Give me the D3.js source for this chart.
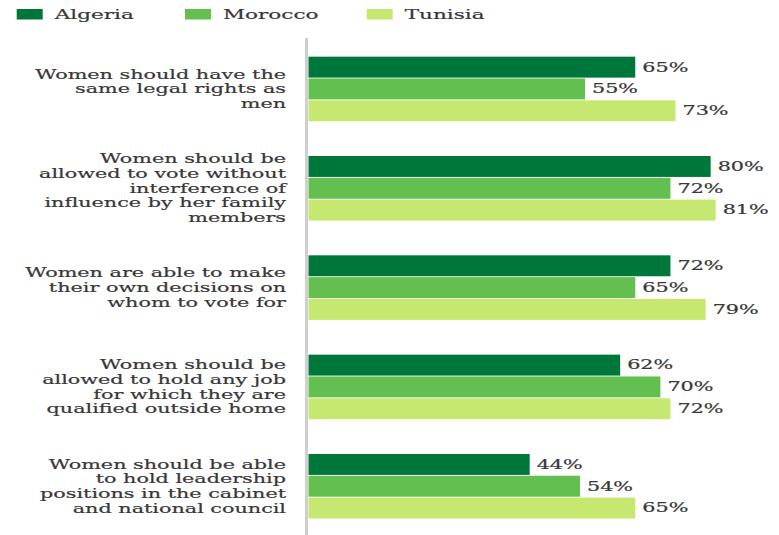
<!DOCTYPE html>
<html><head><meta charset="utf-8">
<script src="https://cdn.jsdelivr.net/npm/d3@7"></script>
<style>body{margin:0;background:#fff}svg{display:block}</style>
</head><body>
<svg id="c" width="779" height="535"></svg>
<script>
const categories = [
  ["Women should have the","same legal rights as","men"],
  ["Women should be","allowed to vote without","interference of","influence by her family","members"],
  ["Women are able to make","their own decisions on","whom to vote for"],
  ["Women should be","allowed to hold any job","for which they are","qualified outside home"],
  ["Women should be able","to hold leadership","positions in the cabinet","and national council"]
];
const seriesNames = ["Algeria","Morocco","Tunisia"];
const algeria = [65,80,72,62,44];
const morocco = [55,72,65,70,54];
const tunisia = [73,81,79,72,65];
const colors = ["#00773a","#63bf50","#c6e770"];

const values = [algeria, morocco, tunisia];
const svg = d3.select("#c");
const FONT = "'DejaVu Serif', serif";
const SX = 1.66;
const textColor = "#383838";

const idx = d3.range(categories.length);
const x = d3.scaleLinear().domain([0,100]).range([308.5, 811.2]);
const y = d3.scaleBand().domain(idx).range([39.3, 535.9]).paddingInner(0.35).paddingOuter(0.175);
const yi = d3.scaleBand().domain(seriesNames).range([0, y.bandwidth()]).paddingInner(0.04);

// axis line
svg.append("line").attr("x1",306.5).attr("x2",306.5).attr("y1",38).attr("y2",535)
  .attr("stroke","#cfcfcf").attr("stroke-width",3);

const g = svg.selectAll("g.grp").data(idx).join("g").attr("class","grp")
  .attr("transform", i => `translate(0,${y(i)})`);

seriesNames.forEach((s, si) => {
  g.append("rect")
    .attr("x", x(0))
    .attr("y", yi(s))
    .attr("width", i => x(values[si][i]) - x(0))
    .attr("height", yi.bandwidth())
    .attr("fill", colors[si]);
  g.append("text")
    .attr("transform", i => `translate(${x(values[si][i]) + 7},${yi(s) + yi.bandwidth()/2}) scale(${SX},1)`)
    .attr("dy","0.35em")
    .attr("font-family", FONT).attr("font-size", 12.5).attr("fill", textColor)
    .attr("stroke", textColor).attr("stroke-width", 0.2)
    .text(i => values[si][i] + "%");
});

// category labels
const LH = 14.7;
g.each(function(i){
  const lines = categories[i];
  const mid = y.bandwidth()/2;
  const top = mid - (lines.length - 1) * LH / 2;
  d3.select(this).selectAll("text.lab").data(lines).join("text").attr("class","lab")
    .attr("transform", (d,k) => `translate(286,${top + k*LH}) scale(${SX},1)`)
    .attr("dy","0.35em")
    .attr("text-anchor","end")
    .attr("font-family", FONT).attr("font-size", 12.5).attr("fill", textColor)
    .attr("stroke", textColor).attr("stroke-width", 0.2)
    .text(d => d);
});

// legend
const legX = [16.7, 185, 366.7];
const leg = svg.selectAll("g.leg").data(seriesNames).join("g").attr("class","leg")
  .attr("transform", (d,k) => `translate(${legX[k]},9)`);
leg.append("rect").attr("width",26).attr("height",10.5).attr("fill",(d,k)=>colors[k]);
leg.append("text").attr("transform",`translate(38,5.5) scale(${SX},1)`).attr("dy","0.35em")
  .attr("font-family", FONT).attr("font-size", 13).attr("fill", textColor)
  .attr("stroke", textColor).attr("stroke-width", 0.2).text(d=>d);
</script>
</body></html>
